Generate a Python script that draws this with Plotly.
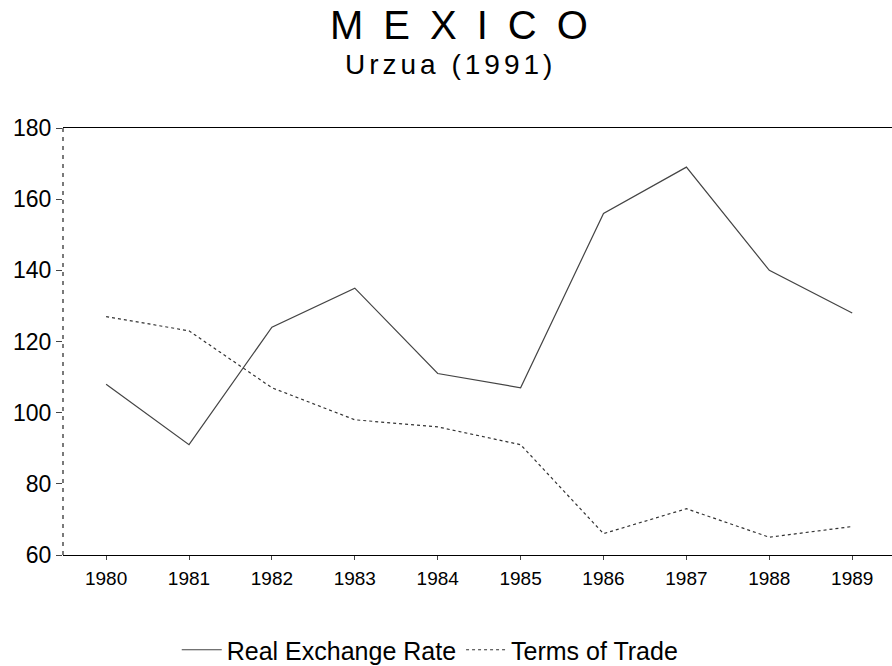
import plotly.graph_objects as go

# data
years = [1980, 1981, 1982, 1983, 1984, 1985, 1986, 1987, 1988, 1989]
real_exchange_rate = [108, 91, 124, 135, 111, 107, 156, 169, 140, 128]
terms_of_trade = [127, 123, 107, 98, 96, 91, 66, 73, 65, 68]
y_ticks = [60, 80, 100, 120, 140, 160, 180]

fig = go.Figure()

fig.add_trace(
    go.Scatter(
        x=years,
        y=real_exchange_rate,
        mode="lines",
        name="Real Exchange Rate",
        line=dict(color="#444444", width=1.2),
    )
)
fig.add_trace(
    go.Scatter(
        x=years,
        y=terms_of_trade,
        mode="lines",
        name="Terms of Trade",
        line=dict(color="#333333", width=1.2, dash="3px,3px"),
    )
)

# dashed left axis like the scanned original
fig.add_shape(
    type="line", xref="paper", yref="paper",
    x0=0, x1=0, y0=0, y1=1,
    line=dict(color="#222222", width=1.2, dash="4px,5px"),
)

# titles
fig.add_annotation(
    text='<span style="letter-spacing:20px">MEXICO</span>',
    xref="paper", yref="paper", x=0.49, y=1.242, yanchor="middle",
    showarrow=False, font=dict(size=40, color="black"),
)
fig.add_annotation(
    text='<span style="letter-spacing:4px">Urzua (1991)</span>',
    xref="paper", yref="paper", x=0.467, y=1.148, yanchor="middle",
    showarrow=False, font=dict(size=28, color="black"),
)

fig.update_layout(
    width=892,
    height=666,
    margin=dict(l=63, r=0, t=128, b=111, autoexpand=False),
    paper_bgcolor="white",
    plot_bgcolor="white",
    font=dict(family="Liberation Sans, Arial, sans-serif", color="black"),
    showlegend=True,
    legend=dict(
        orientation="h",
        x=0.443, xanchor="center",
        y=-0.2225, yanchor="middle",
        font=dict(size=25),
        itemwidth=40,
    ),
)

fig.update_xaxes(
    range=[1979.48, 1989.48],
    tickmode="array",
    tickvals=years,
    ticktext=[str(y) for y in years],
    showgrid=False,
    zeroline=False,
    showline=True,
    linecolor="black",
    linewidth=1.2,
    mirror=True,
    ticks="outside",
    ticklen=4,
    tickcolor="#444444",
    ticklabelstandoff=2,
    tickfont=dict(size=19),
)
fig.update_yaxes(
    range=[60, 180],
    tickvals=y_ticks,
    showgrid=False,
    zeroline=False,
    showline=False,
    ticks="outside",
    ticklen=6,
    tickcolor="#444444",
    tickfont=dict(size=23),
)

# drop the default page margin so the figure sits at the window corner
fig.write_html(
    "out.html",
    config={"displayModeBar": False},
    post_script="document.body.style.margin='0';",
)
